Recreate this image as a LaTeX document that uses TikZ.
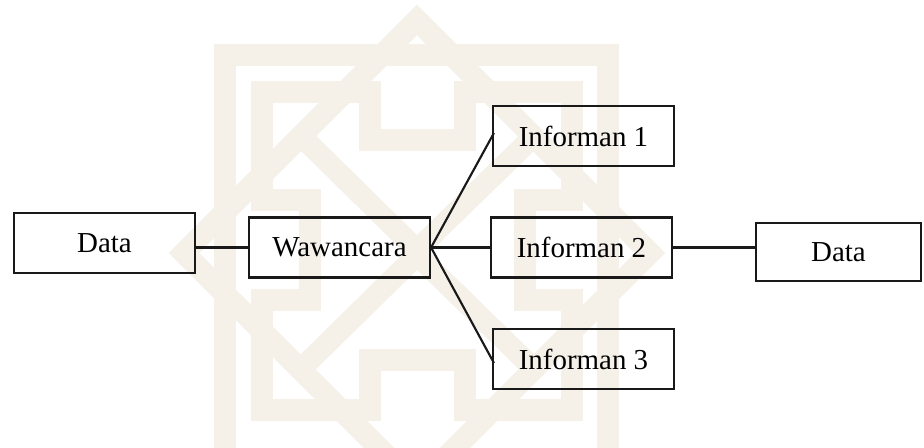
\documentclass[tikz,border=0pt]{standalone}
\usepackage{fontspec}
\setmainfont{Liberation Serif}
\definecolor{wm}{RGB}{245,241,233}
\begin{document}
\begin{tikzpicture}[x=0.75pt,y=-0.75pt,
  box/.style={draw=black!90, line width=1.6pt, rectangle, minimum width=181*0.75pt, minimum height=60*0.75pt, inner sep=0pt, font=\fontsize{21.7}{26}\selectfont},
  conn/.style={draw=black!90, line width=1.6pt},
  band/.style={draw=wm, line width=16pt, line join=miter}]
\useasboundingbox (0,0) rectangle (924,448);
\fill[white] (0,0) rectangle (924,448);
% watermark (approximation)
\begin{scope}
\clip (0,0) rectangle (924,448);
\draw[band] (225,55) rectangle (608,460);
\draw[band] (417,20) -- (650,253) -- (417,486) -- (184,253) -- cycle;
\draw[band] (262,92) -- (370,92) -- (370,140) -- (465,140) -- (465,92) -- (572,92) -- (572,200) -- (525,200) -- (525,300) -- (572,300) -- (572,410) -- (465,410) -- (465,360) -- (370,360) -- (370,410) -- (262,410) -- (262,300) -- (310,300) -- (310,200) -- (262,200) -- cycle;
\draw[band] (300,135) -- (417,250) -- (535,135);
\draw[band] (300,370) -- (417,255) -- (535,370);
\end{scope}
% nodes
\node[box] (dl) at (104.5,243) {Data};
\node[box] (w) at (339.5,247.5) {Wawancara};
\node[box] (i1) at (583.5,136) {Informan 1};
\node[box] (i2) at (581.5,247.5) {Informan 2};
\node[box] (i3) at (583.5,359) {Informan 3};
\node[box, minimum width=165*0.75pt, minimum height=58*0.75pt] (dr) at (838.5,252) {Data};
% connectors
\draw[conn] (dl.east |- w.west) -- (w.west);
\draw[conn] (w.east) -- ([shift={(2,-3)}]i1.west);
\draw[conn] (w.east) -- (i2.west);
\draw[conn] (w.east) -- ([shift={(2,4)}]i3.west);
\draw[conn] (i2.east) -- (i2.east -| dr.west);
\end{tikzpicture}
\end{document}
